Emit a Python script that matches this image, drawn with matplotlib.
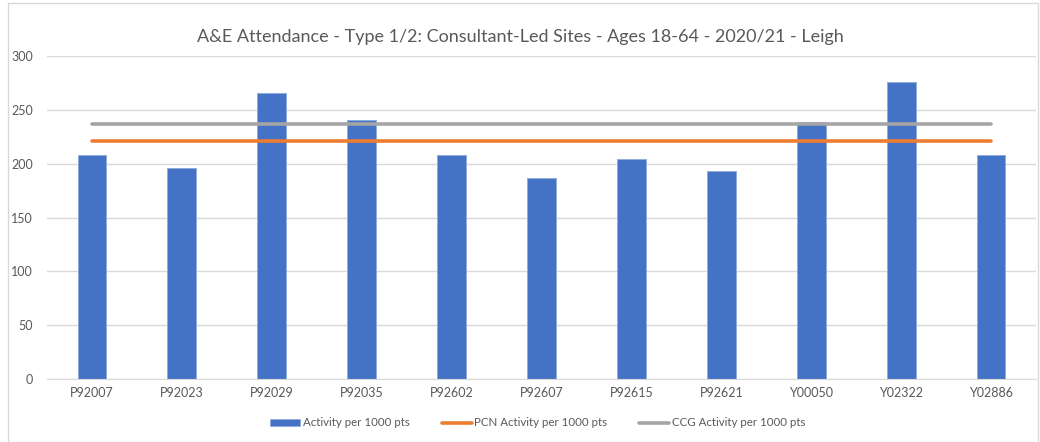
import matplotlib

matplotlib.use("Agg")
import matplotlib.pyplot as plt  # noqa: E402
from matplotlib.patches import Rectangle  # noqa: E402

# Practice codes and activity per 1000 patients
practices = ["P92007", "P92023", "P92029", "P92035", "P92602", "P92607",
             "P92615", "P92621", "Y00050", "Y02322", "Y02886"]
activity = [208, 196, 266, 241, 208, 187, 204, 193, 239, 276, 208]
pcn_rate = 221
ccg_rate = 237

yticks = [0, 50, 100, 150, 200, 250, 300]
title = "A&E Attendance - Type 1/2: Consultant-Led Sites - Ages 18-64 - 2020/21 - Leigh"

BLUE = "#4472C4"
ORANGE = "#ED7D31"
GREY = "#A5A5A5"
TEXT = "#595959"
GRID = "#D9D9D9"

plt.rcParams["font.family"] = ["Lato", "DejaVu Sans"]

fig = plt.figure(figsize=(10.4, 4.42), dpi=100)
ax = fig.add_axes([0.0452, 0.1425, 0.951, 0.7308])

x = list(range(len(practices)))
bars = ax.bar(x, activity, width=0.32, color=BLUE, edgecolor="#8FAADC",
              linewidth=0.6, zorder=2, label="Activity per 1000 pts")
pcn_line, = ax.plot([x[0], x[-1]], [pcn_rate, pcn_rate], color=ORANGE, lw=2.6,
                    solid_capstyle="round", zorder=3, label="PCN Activity per 1000 pts")
ccg_line, = ax.plot([x[0], x[-1]], [ccg_rate, ccg_rate], color=GREY, lw=2.6,
                    solid_capstyle="round", zorder=3, label="CCG Activity per 1000 pts")

ax.set_xlim(-0.5, len(practices) - 0.5)
ax.set_ylim(0, 300)
ax.set_yticks(yticks)
ax.set_xticks(x)
ax.set_xticklabels(practices)
ax.tick_params(axis="both", length=0, labelsize=9, colors=TEXT)
ax.tick_params(axis="y", pad=10)
ax.tick_params(axis="x", pad=6)
ax.grid(axis="y", color=GRID, lw=1, zorder=0)
for side in ["top", "right", "left"]:
    ax.spines[side].set_visible(False)
ax.spines["bottom"].set_color(GRID)

fig.suptitle(title, y=0.935, fontsize=13, color=TEXT)

fig.legend(handles=[bars, pcn_line, ccg_line], loc="center",
           bbox_to_anchor=(0.517, 0.043), ncol=3, frameon=False,
           fontsize=8.3, labelcolor=TEXT, handlelength=2.6, handleheight=0.5,
           handletextpad=0.2, columnspacing=2.8)

# light chart-area border
fig.add_artist(Rectangle((0.008, 0.0), 0.99, 0.993, transform=fig.transFigure,
                         fill=False, edgecolor=GRID, lw=1))

fig.savefig("out.png", dpi=100)
